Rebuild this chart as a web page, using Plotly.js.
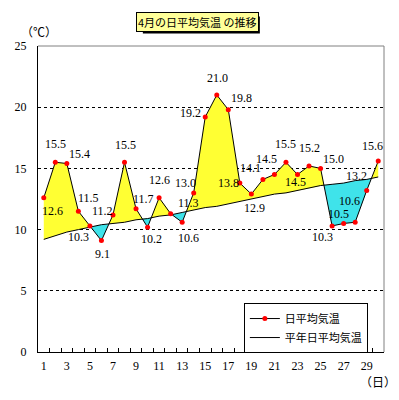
<!DOCTYPE html>
<html>
<head>
<meta charset="utf-8">
<script src="https://cdn.plot.ly/plotly-3.0.1.min.js"></script>
<style>html,body{margin:0;padding:0;background:#fff;}#chart{width:399px;height:400px;}</style>
</head>
<body>
<div id="chart"></div>
<script>
const days = [1,2,3,4,5,6,7,8,9,10,11,12,13,14,15,16,17,18,19,20,21,22,23,24,25,26,27,28,29,30];
const dailyMean = [12.6,15.5,15.4,11.5,10.3,9.1,11.2,15.5,11.7,10.2,12.6,11.3,10.6,13.0,19.2,21.0,19.8,13.8,12.9,14.1,14.5,15.5,14.5,15.2,15.0,10.3,10.5,10.6,13.2,15.6];
const normalMean = [9.2,9.5,9.8,10.0,10.2,10.4,10.5,10.6,10.8,10.9,11.1,11.2,11.4,11.6,11.8,11.9,12.1,12.3,12.5,12.7,12.9,13.0,13.2,13.4,13.6,13.7,13.8,14.0,14.1,14.3];
const xTickLabels = ['1','3','5','7','9','11','13','15','17','19','21','23','25','27','29'];
const xTickVals = [1,3,5,7,9,11,13,15,17,19,21,23,25,27,29];
const seriesNames = ['日平均気温','平年日平均気温'];
const titleText = '4月の日平均気温 の推移';

// label offsets [dx, dy] in px (dy positive = downwards)
const labelOffsets = [[9,13],[0,-18],[13,-10],[10,-13],[-11,11],[1,13],[-10,-4],[1,-17],[7,-10],[4,12],
  [0,-18],[18,-11],[6,16],[-8,-10],[-15,-4],[1,-17],[13,-12],[-11,0],[3,14],[-12,-11],
  [-8,-16],[0,-18],[-2,7],[0,-18],[13,-9],[-10,11],[-5,-9],[-6,-21],[-10,-14],[-6,-15]];

// build dense arrays with crossing points
const xs=[], nrm=[], act=[];
for (let i=0;i<days.length;i++){
  xs.push(days[i]); nrm.push(normalMean[i]); act.push(dailyMean[i]);
  if (i<days.length-1){
    const d0=dailyMean[i]-normalMean[i], d1=dailyMean[i+1]-normalMean[i+1];
    if (d0*d1<0){
      const t=d0/(d0-d1);
      const v=normalMean[i]+t*(normalMean[i+1]-normalMean[i]);
      xs.push(days[i]+t*(days[i+1]-days[i])); nrm.push(v); act.push(v);
    }
  }
}
const upper = act.map((a,i)=>Math.max(a,nrm[i]));
const lower = act.map((a,i)=>Math.min(a,nrm[i]));

const numFont = {family:'Liberation Serif, DejaVu Serif, serif', size:12, color:'#000'};
const jpFont = {family:'Noto Sans CJK JP, sans-serif', size:12, color:'#000'};

const traces = [
  {x:xs, y:nrm, mode:'lines', line:{width:0}, showlegend:false, hoverinfo:'skip'},
  {x:xs, y:upper, mode:'lines', line:{width:0}, fill:'tonexty', fillcolor:'#FFFF33', showlegend:false, hoverinfo:'skip'},
  {x:xs, y:nrm, mode:'lines', line:{width:0}, showlegend:false, hoverinfo:'skip'},
  {x:xs, y:lower, mode:'lines', line:{width:0}, fill:'tonexty', fillcolor:'#3FE3EA', showlegend:false, hoverinfo:'skip'},
  {x:days, y:normalMean, mode:'lines', name:seriesNames[1], line:{color:'#000', width:1}, legendrank:2},
  {x:days, y:dailyMean, mode:'lines+markers', name:seriesNames[0], line:{color:'#000', width:1},
    marker:{color:'#FF0000', size:5, symbol:'circle'}, legendrank:1},
  {x:[], y:[], xaxis:'x2', yaxis:'y', showlegend:false, hoverinfo:'skip'}
];

const annotations = [];
days.forEach((d,i)=>{
  annotations.push({x:d, y:dailyMean[i], xref:'x', yref:'y', text:dailyMean[i].toFixed(1), showarrow:false,
    xanchor:'center', yanchor:'middle',
    xshift:labelOffsets[i][0], yshift:-labelOffsets[i][1], font:numFont});
});
annotations.push({xref:'paper', yref:'paper', x:0.462, y:1.080, xanchor:'center', yanchor:'middle', text:titleText, showarrow:false,
  font:{family:jpFont.family, size:11, color:'#000'}, bgcolor:'#FFFF99', bordercolor:'#000', borderwidth:1, borderpad:1});
annotations.push({xref:'paper', yref:'paper', x:0.003, y:1.046, xanchor:'center', yanchor:'middle', text:'（℃）', showarrow:false, font:jpFont});
annotations.push({xref:'paper', yref:'paper', x:0.982, y:-0.098, xanchor:'center', yanchor:'middle', text:'（日）', showarrow:false, font:jpFont});

const layout = {
  width:399, height:400,
  margin:{l:38, r:15, t:46, b:48},
  paper_bgcolor:'#fff', plot_bgcolor:'#fff',
  showlegend:true,
  legend:{x:0.595, y:0.160, xanchor:'left', yanchor:'top', bgcolor:'#fff', bordercolor:'#000', borderwidth:1,
    font:{family:jpFont.family, size:11, color:'#000'}, traceorder:'normal', tracegroupgap:0, itemwidth:30},
  xaxis:{range:[0.5,30.5], tickmode:'array', tickvals:xTickVals, ticktext:xTickLabels, ticks:'',
    showline:true, linecolor:'#000', linewidth:1, showgrid:false, zeroline:false, tickfont:numFont, ticklabelstandoff:3},
  xaxis2:{range:[0.5,30.5], overlaying:'x', side:'bottom', anchor:'y', tickmode:'linear', tick0:0.5, dtick:1,
    ticks:'inside', ticklen:4, tickcolor:'#000', tickwidth:1, showticklabels:false, showgrid:false, zeroline:false, showline:false},
  yaxis:{range:[0,25], tickmode:'linear', tick0:0, dtick:5, ticks:'', showline:true, linecolor:'#000', linewidth:1,
    showgrid:true, gridcolor:'#000', griddash:'3px,3px', gridwidth:1, zeroline:false, tickfont:numFont, ticklabelstandoff:8},
  shapes:[
    {type:'line', xref:'paper', yref:'paper', x0:0, y0:1, x1:1, y1:1, line:{color:'#808080', width:1}, layer:'above'},
    {type:'line', xref:'paper', yref:'paper', x0:1, y0:0, x1:1, y1:1, line:{color:'#808080', width:1}, layer:'above'},
    {type:'rect', xref:'paper', yref:'paper', xsizemode:'pixel', ysizemode:'pixel', xanchor:0.462, yanchor:1.080,
      x0:-55, x1:62, y0:-12, y1:5, fillcolor:'#000', line:{width:0}, layer:'above'}
  ],
  annotations:annotations
};

Plotly.newPlot('chart', traces, layout, {displayModeBar:false, staticPlot:true});
</script>
</body>
</html>
